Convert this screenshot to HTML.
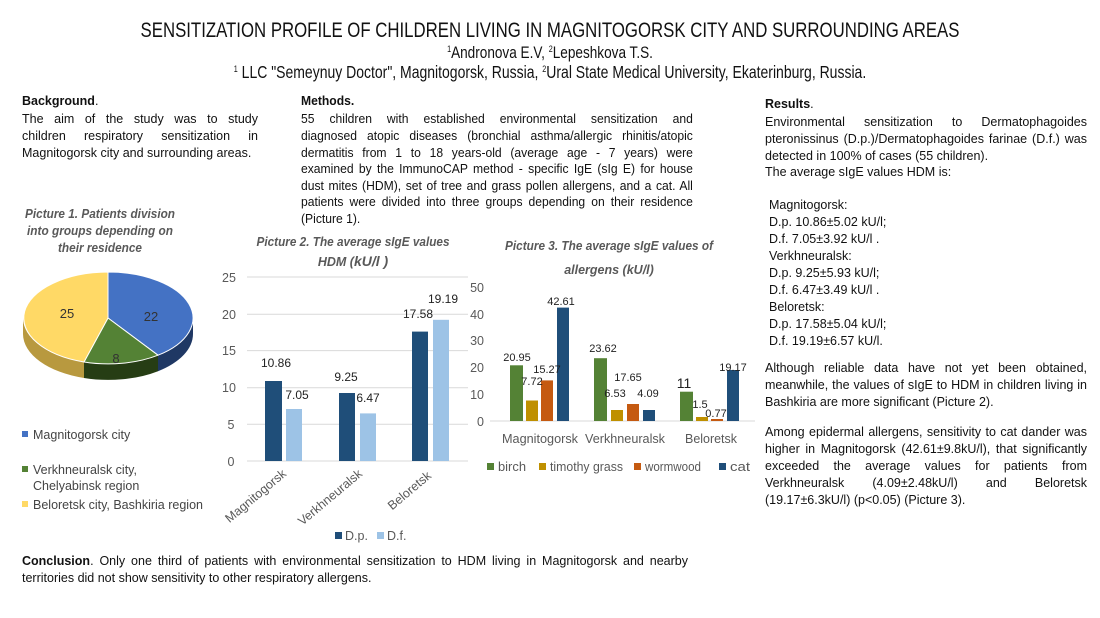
<!DOCTYPE html>
<html><head><meta charset="utf-8">
<style>
html,body{margin:0;padding:0;background:#fff;}
body{width:1100px;height:618px;position:relative;overflow:hidden;font-family:"Liberation Sans",sans-serif;color:#111;}
svg{position:absolute;left:0;top:0;}
svg text{font-family:"Liberation Sans",sans-serif;}
.t{position:absolute;white-space:nowrap;font-size:12.5px;line-height:14px;transform-origin:0 0;color:#111;}
.j{text-align:justify;text-align-last:justify;}
b{font-weight:bold;}
</style></head><body>
<svg width="1100" height="618" viewBox="0 0 1100 618" xmlns="http://www.w3.org/2000/svg">
<!-- Header -->
<g transform="translate(550,0) scale(0.80,1)" text-anchor="middle" fill="#111">
<text x="0" y="37" font-size="21">SENSITIZATION PROFILE OF CHILDREN LIVING IN MAGNITOGORSK CITY AND SURROUNDING AREAS</text>
<text x="0" y="58" font-size="17"><tspan font-size="9" dy="-6">1</tspan><tspan dy="6">Andronova E.V, </tspan><tspan font-size="9" dy="-6">2</tspan><tspan dy="6">Lepeshkova T.S.</tspan></text>
<text x="0" y="78" font-size="17.5"><tspan font-size="9" dy="-6">1</tspan><tspan dy="6"> LLC "Semeynuy Doctor", Magnitogorsk, Russia, </tspan><tspan font-size="9" dy="-6">2</tspan><tspan dy="6">Ural State Medical University, Ekaterinburg, Russia.</tspan></text>
</g>

<!-- Picture 1 -->
<g font-size="12.5" font-style="italic" font-weight="bold" fill="#595959" text-anchor="middle">
<text x="100" y="218" textLength="150" lengthAdjust="spacingAndGlyphs">Picture 1. Patients division</text>
<text x="100" y="235" textLength="146" lengthAdjust="spacingAndGlyphs">into groups depending on</text>
<text x="100" y="252" textLength="84" lengthAdjust="spacingAndGlyphs">their residence</text>
</g>
<path d="M193,318 A85,46 0 0 1 158,355.2 L158,371.2 A85,46 0 0 0 193,334 Z" fill="#1f3864"/>
<path d="M158,355.2 A85,46 0 0 1 84,362 L84,378 A85,46 0 0 0 158,371.2 Z" fill="#263d14"/>
<path d="M84,362 A85,46 0 0 1 23,318 L23,334 A85,46 0 0 0 84,378 Z" fill="#b8993f"/>
<path d="M108,318 L108,272 A85,46 0 0 1 158,355.2 Z" fill="#4472c4" stroke="#fff" stroke-width="1"/>
<path d="M108,318 L158,355.2 A85,46 0 0 1 84,362 Z" fill="#548235" stroke="#fff" stroke-width="1"/>
<path d="M108,318 L84,362 A85,46 0 0 1 108,272 Z" fill="#ffd966" stroke="#fff" stroke-width="1"/>
<g font-size="13" fill="#333" text-anchor="middle">
<text x="151" y="321">22</text><text x="116" y="363">8</text><text x="67" y="318">25</text>
</g>
<g font-size="12.5" fill="#444">
<rect x="22" y="431" width="6" height="6" fill="#4472c4"/><text x="33" y="439">Magnitogorsk city</text>
<rect x="22" y="466" width="6" height="6" fill="#548235"/><text x="33" y="474">Verkhneuralsk city,</text>
<text x="33" y="490">Chelyabinsk region</text>
<rect x="22" y="501" width="6" height="6" fill="#ffd966"/><text x="33" y="509">Beloretsk city, Bashkiria region</text>
</g>

<!-- Picture 2 -->
<g font-size="12.5" font-style="italic" font-weight="bold" fill="#595959" text-anchor="middle">
<text x="353" y="246" textLength="193" lengthAdjust="spacingAndGlyphs">Picture 2. The average sIgE values</text>
<text x="353" y="266">HDM (<tspan font-size="14">kU/l )</tspan></text>
</g>
<g stroke="#d9d9d9" stroke-width="1">
<line x1="247" y1="277" x2="468" y2="277"/><line x1="247" y1="314.2" x2="468" y2="314.2"/>
<line x1="247" y1="350.6" x2="468" y2="350.6"/><line x1="247" y1="387.8" x2="468" y2="387.8"/>
<line x1="247" y1="424.2" x2="468" y2="424.2"/><line x1="247" y1="461" x2="468" y2="461"/>
</g>
<g font-size="12.5" fill="#595959" text-anchor="middle">
<text x="229" y="282">25</text><text x="229" y="319">20</text><text x="229" y="355">15</text>
<text x="229" y="392">10</text><text x="231" y="429">5</text><text x="231" y="466">0</text>
</g>
<g fill="#1f4e79">
<rect x="265" y="381" width="17" height="80"/><rect x="339" y="393" width="16" height="68"/><rect x="412" y="331.6" width="16" height="129.4"/>
</g>
<g fill="#9dc3e6">
<rect x="286" y="409" width="16" height="52"/><rect x="360" y="413.4" width="16" height="47.6"/><rect x="433" y="319.8" width="16" height="141.2"/>
</g>
<g font-size="12" fill="#222" text-anchor="middle">
<text x="276" y="367">10.86</text><text x="297" y="399">7.05</text><text x="346" y="381">9.25</text>
<text x="368" y="402">6.47</text><text x="418" y="318">17.58</text><text x="443" y="303">19.19</text>
</g>
<g font-size="12.5" fill="#595959" text-anchor="end">
<text transform="translate(287,475) rotate(-40)">Magnitogorsk</text>
<text transform="translate(363,475) rotate(-40)">Verkhneuralsk</text>
<text transform="translate(432,477) rotate(-40)">Beloretsk</text>
</g>
<g font-size="12.5" fill="#595959">
<rect x="335" y="532" width="7" height="7" fill="#1f4e79"/><text x="345" y="540">D.p.</text>
<rect x="377" y="532" width="7" height="7" fill="#9dc3e6"/><text x="387" y="540">D.f.</text>
</g>

<!-- Picture 3 -->
<g font-size="12.5" font-style="italic" font-weight="bold" fill="#595959" text-anchor="middle">
<text x="609" y="250" textLength="208" lengthAdjust="spacingAndGlyphs">Picture 3. The average sIgE values of</text>
<text x="609" y="274">allergens  (kU/l)</text>
</g>
<g font-size="12.5" fill="#595959" text-anchor="end">
<text x="484" y="292">50</text><text x="484" y="319">40</text><text x="484" y="345">30</text>
<text x="484" y="372">20</text><text x="484" y="399">10</text><text x="484" y="426">0</text>
</g>
<line x1="490" y1="421" x2="755" y2="421" stroke="#d9d9d9"/>
<g fill="#548235">
<rect x="510" y="365.3" width="13" height="55.7"/><rect x="594" y="358.2" width="13" height="62.8"/><rect x="680" y="391.7" width="13" height="29.3"/>
</g>
<g fill="#bf9000">
<rect x="526" y="400.5" width="12" height="20.5"/><rect x="611" y="410" width="12" height="11"/><rect x="696" y="417" width="12" height="4"/>
</g>
<g fill="#c55a11">
<rect x="541" y="380.4" width="12" height="40.6"/><rect x="627" y="404" width="12" height="17"/><rect x="711" y="419" width="12" height="2"/>
</g>
<g fill="#1f4e79">
<rect x="557" y="307.6" width="12" height="113.4"/><rect x="643" y="410" width="12" height="11"/><rect x="727" y="370" width="12" height="51"/>
</g>
<g font-size="11" fill="#222" text-anchor="middle">
<text x="561" y="305">42.61</text><text x="517" y="361">20.95</text><text x="532" y="385">7.72</text>
<text x="547" y="373">15.27</text><text x="603" y="352">23.62</text><text x="628" y="381">17.65</text>
<text x="615" y="397">6.53</text><text x="648" y="397">4.09</text><text x="684" y="388" font-size="14">11</text>
<text x="700" y="408">1.5</text><text x="716" y="417">0.77</text><text x="733" y="371">19.17</text>
</g>
<g font-size="12.5" fill="#595959" text-anchor="middle" >
<text x="540" y="443" textLength="76" lengthAdjust="spacingAndGlyphs">Magnitogorsk</text>
<text x="625" y="443" textLength="80" lengthAdjust="spacingAndGlyphs">Verkhneuralsk</text>
<text x="711" y="443" textLength="52" lengthAdjust="spacingAndGlyphs">Beloretsk</text>
</g>
<g font-size="12.5" fill="#595959">
<rect x="487" y="463" width="7" height="7" fill="#548235"/><text x="498" y="471" textLength="28" lengthAdjust="spacingAndGlyphs">birch</text>
<rect x="539" y="463" width="7" height="7" fill="#bf9000"/><text x="550" y="471" textLength="73" lengthAdjust="spacingAndGlyphs">timothy grass</text>
<rect x="634" y="463" width="7" height="7" fill="#c55a11"/><text x="645" y="471" textLength="56" lengthAdjust="spacingAndGlyphs">wormwood</text>
<rect x="719" y="463" width="7" height="7" fill="#1f4e79"/><text x="730" y="471" textLength="20" lengthAdjust="spacingAndGlyphs">cat</text>
</g>
</svg>

<!-- Background -->
<div class="t" style="left:22px;top:94px;width:236px;">
<div style="height:18px"><b>Background</b>.</div>
<div class="j" style="height:17px">The aim of the study was to study</div>
<div class="j" style="height:17px">children respiratory sensitization in</div>
<div>Magnitogorsk city and surrounding areas.</div>
</div>

<!-- Methods -->
<div class="t" style="left:301px;top:94px;width:404px;transform:scaleX(0.97)">
<div style="height:18px"><b>Methods.</b></div>
<div class="j" style="height:17px">55 children with established environmental sensitization and</div>
<div class="j" style="height:16.5px">diagnosed atopic diseases (bronchial asthma/allergic rhinitis/atopic</div>
<div class="j" style="height:16.5px">dermatitis from 1 to 18 years-old (average age - 7 years) were</div>
<div class="j" style="height:16.5px">examined by the ImmunoCAP method - specific IgE (sIg E) for house</div>
<div class="j" style="height:16.5px">dust mites (HDM), set of tree and grass pollen allergens, and a cat. All</div>
<div class="j" style="height:16.5px">patients were divided into three groups depending on their residence</div>
<div>(Picture 1).</div>
</div>

<!-- Results -->
<div class="t" style="left:765px;top:97px;width:322px;">
<div style="height:18px"><b>Results</b>.</div>
<div class="j" style="height:17px">Environmental sensitization to Dermatophagoides</div>
<div class="j" style="height:16.5px">pteronissinus (D.p.)/Dermatophagoides farinae (D.f.) was</div>
<div style="height:16.5px">detected in 100% of cases (55 children).</div>
<div>The average sIgE values HDM is:</div>
</div>
<div class="t" style="left:769px;top:198px;">
<div style="height:17px">Magnitogorsk:</div>
<div style="height:17px">D.p. 10.86±5.02 kU/l;</div>
<div style="height:17px">D.f. 7.05±3.92 kU/l .</div>
<div style="height:17px">Verkhneuralsk:</div>
<div style="height:17px">D.p. 9.25±5.93 kU/l;</div>
<div style="height:17px">D.f. 6.47±3.49 kU/l .</div>
<div style="height:17px">Beloretsk:</div>
<div style="height:17px">D.p. 17.58±5.04 kU/l;</div>
<div style="height:17px">D.f. 19.19±6.57 kU/l.</div>
</div>
<div class="t" style="left:765px;top:361px;width:322px;">
<div class="j" style="height:17px">Although reliable data have not yet been obtained,</div>
<div class="j" style="height:17px">meanwhile, the values of sIgE to HDM in children living in</div>
<div>Bashkiria are more significant (Picture 2).</div>
</div>
<div class="t" style="left:765px;top:425px;width:322px;">
<div class="j" style="height:17px">Among epidermal allergens, sensitivity to cat dander was</div>
<div class="j" style="height:17px">higher in Magnitogorsk (42.61±9.8kU/l), that significantly</div>
<div class="j" style="height:17px">exceeded the average values for patients from</div>
<div class="j" style="height:17px">Verkhneuralsk (4.09±2.48kU/l) and Beloretsk</div>
<div>(19.17±6.3kU/l) (p&lt;0.05) (Picture 3).</div>
</div>

<!-- Conclusion -->
<div class="t" style="left:22px;top:554px;width:666px;">
<div class="j" style="height:17px"><b>Conclusion</b>. Only one third of patients with environmental sensitization to HDM living in Magnitogorsk and nearby</div>
<div>territories did not show sensitivity to other respiratory allergens.</div>
</div>
</body></html>
